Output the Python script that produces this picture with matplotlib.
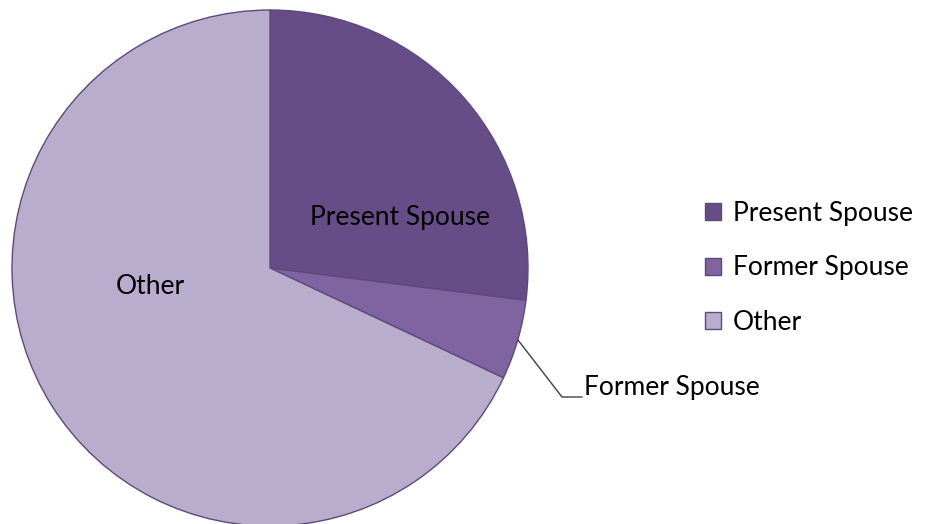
import matplotlib
matplotlib.use('Agg')
from matplotlib import pyplot as plt

labels = ['Present Spouse', 'Former Spouse', 'Other']
values = [27, 5, 68]
colors = ['#664D88', '#8064A2', '#B9ADCE']

plt.rcParams['font.family'] = ['Lato', 'DejaVu Sans']
fs = 19

fig = plt.figure(figsize=(9.25, 5.24), dpi=100)
# pie centre at (270, 268) px, radius 258 px
ax = fig.add_axes([12 / 925, -2 / 524, 516 / 925, 516 / 524])
wedges, _ = ax.pie(values, colors=colors, startangle=90, counterclock=False,
                   radius=1, wedgeprops=dict(edgecolor='#5E4A7A', linewidth=1.0))
ax.set_xlim(-1, 1)
ax.set_ylim(-1, 1)
ax.axis('off')


def px(x, y):
    return ((x - 270) / 258, (268 - y) / 258)


ax.text(*px(400, 218), 'Present Spouse', ha='center', va='center', fontsize=fs, color='black')
ax.text(*px(150, 286), 'Other', ha='center', va='center', fontsize=fs, color='black')

# leader line for the small slice
p0, p1, p2 = px(518, 340), px(562, 397), px(582, 397)
ax.plot([p0[0], p1[0], p2[0]], [p0[1], p1[1], p2[1]], color='#404040', lw=1, clip_on=False)
ax.text(*px(584, 388), 'Former Spouse', ha='left', va='center', fontsize=fs, color='black',
        clip_on=False)

leg = fig.legend(wedges, labels, loc='center left', bbox_to_anchor=(692 / 925, 1 - 268 / 524),
                 frameon=False, fontsize=fs, handlelength=0.6, handleheight=0.6,
                 handletextpad=0.45, labelspacing=1.12, borderpad=0)

plt.savefig('out.png', dpi=100)
